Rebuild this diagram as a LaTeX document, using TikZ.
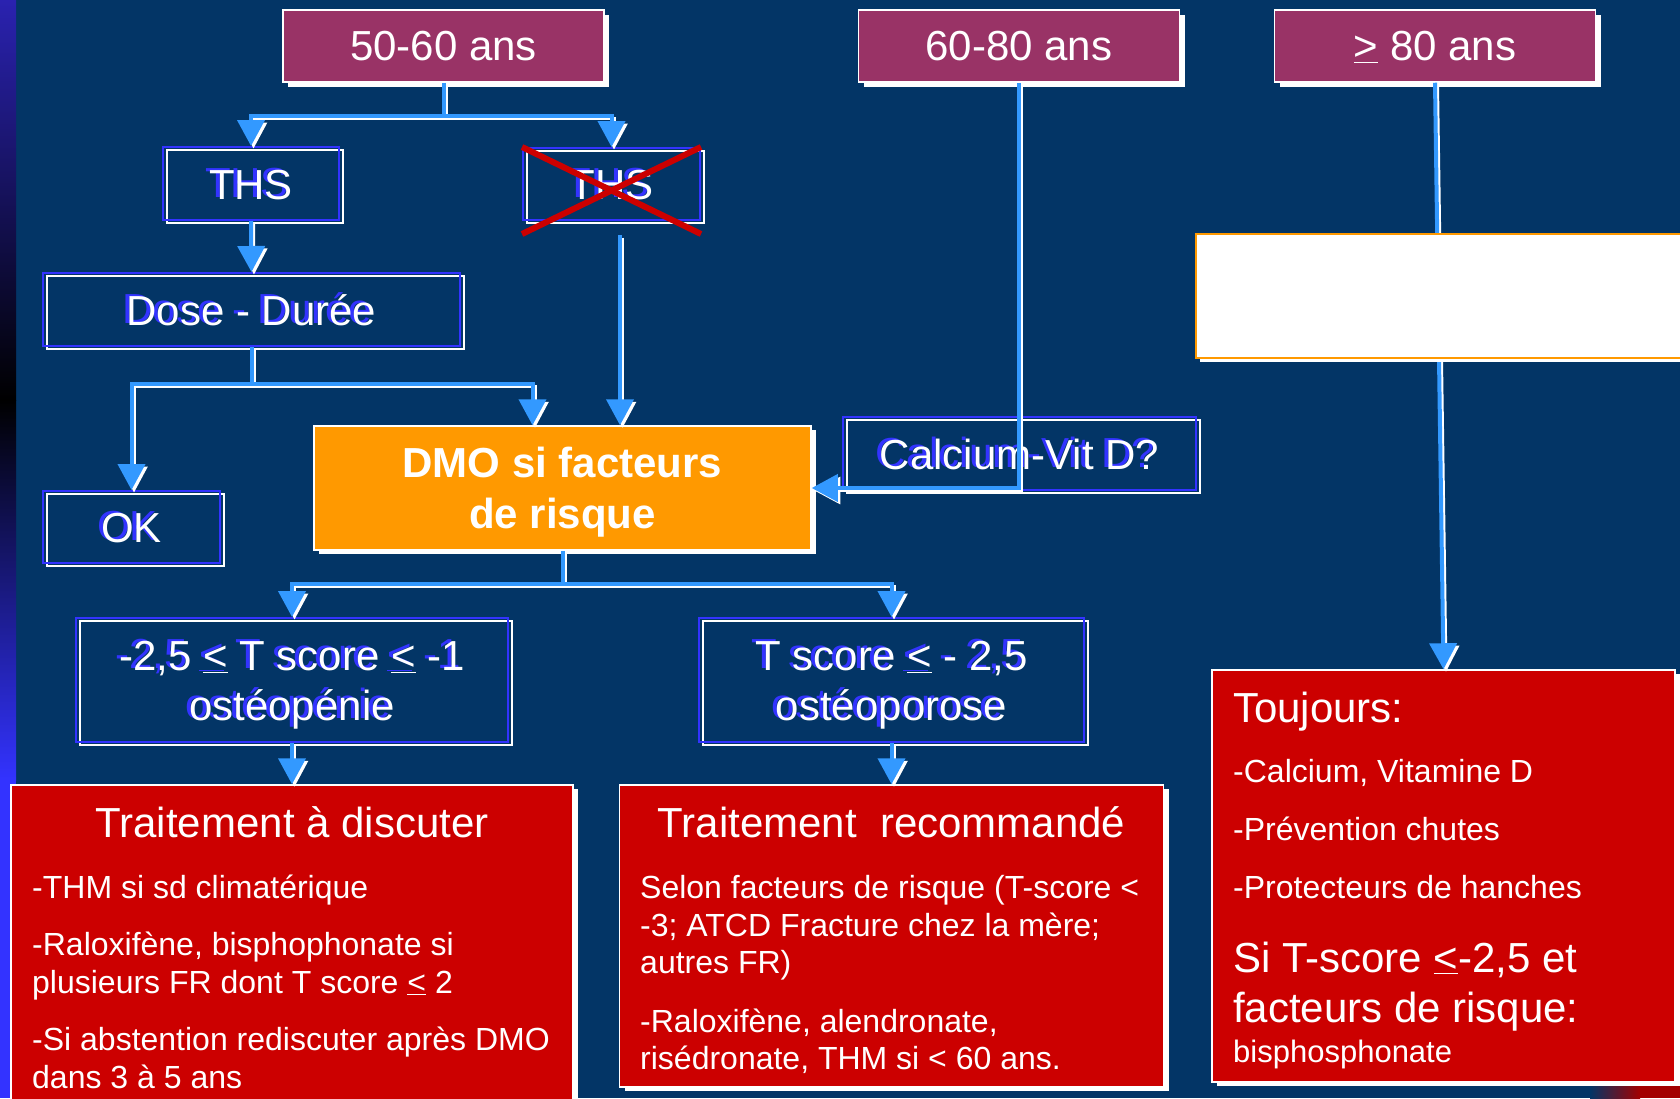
\documentclass[tikz,border=0pt]{standalone}
\usepackage{fontspec}
\setmainfont{Liberation Sans}
\usetikzlibrary{arrows.meta}

\definecolor{navy}{RGB}{3,53,102}
\definecolor{plum}{RGB}{153,51,102}
\definecolor{amber}{RGB}{255,153,0}
\definecolor{crimson}{RGB}{204,0,0}
\definecolor{sky}{RGB}{51,153,255}
\definecolor{royal}{RGB}{51,51,255}
\definecolor{bandtop}{RGB}{42,34,176}

\newcommand{\fsize}[2]{\fontsize{#1}{#2}\selectfont}
% white text over a blue copy
\newcommand{\emb}[1]{\rlap{\kern-4pt\raisebox{2pt}{\color{royal}#1}}#1}

\tikzset{
  hdr/.style={draw=white, line width=1.5, fill=plum, text=white, inner sep=0,
    minimum width=321, minimum height=72, font=\fsize{42}{50}, text depth=0pt,
    preaction={fill=white, transform canvas={shift={(5pt,-5pt)}}}},
  textbox/.style={draw=royal, line width=2, text=white, inner sep=0, align=center,
    font=\fsize{42}{50}, text depth=0pt,
    preaction={draw=white, line width=2, transform canvas={shift={(4pt,-3pt)}}}},
  dmobox/.style={draw=white, line width=1.5, fill=amber, text=white, inner sep=0,
    align=center, minimum width=497, minimum height=124, font=\bfseries\fsize{42}{51},
    text depth=0pt,
    preaction={fill=white, transform canvas={shift={(5pt,-4pt)}}}},
  redbox/.style={draw=white, line width=1.5, fill=crimson, inner sep=0,
    preaction={fill=white, transform canvas={shift={(5pt,-4pt)}}}},
  blank/.style={draw=amber, line width=2, fill=white, inner sep=0,
    preaction={fill=white, transform canvas={shift={(4pt,-4pt)}}}},
  link/.style={draw=sky, line width=4, -{Triangle[length=26pt,width=27pt]},
    preaction={draw=white, line width=3, transform canvas={shift={(2.5pt,-2.5pt)}}}},
  cross/.style={draw=crimson, line width=6},
  title/.style={text=white, anchor=base, inner sep=0, font=\fsize{42}{50}},
  body/.style={text=white, anchor=base west, inner sep=0, font=\fsize{32}{38}}
}

\begin{document}
\begin{tikzpicture}[x=1pt,y=-1pt]
  \useasboundingbox (0,0) rectangle (1680,1098);
  \clip (0,0) rectangle (1680,1098);
  \fill[navy] (0,0) rectangle (1680,1098);
  % side band
  \shade[top color=bandtop, bottom color=black] (0,0) rectangle (16,400);
  \shade[top color=black, bottom color=royal] (0,400) rectangle (16,780);
  \fill[royal] (0,780) rectangle (16,1098);
  \shade[left color=navy, right color=crimson!80!black] (1590,1086) rectangle (1640,1098);
  \fill[crimson!80!black] (1640,1086) rectangle (1680,1098);

  % ages
  \node[hdr] (age1) at (443.5,46) {50-60 ans};
  \node[hdr] (age2) at (1019,46) {60-80 ans};
  \node[hdr] (age3) at (1435,46) {\underline{>} 80 ans};

  % boxes
  \node[textbox, minimum width=176, minimum height=73] (ths) at (251,183.5) {\emb{THS}};
  \node[textbox, minimum width=177, minimum height=72] (noths) at (611.5,184) {\emb{THS}};
  \node[textbox, minimum width=417, minimum height=73] (dose) at (251.5,309.5) {\emb{Dose - Durée}};
  \node[textbox, minimum width=177, minimum height=72] (ok) at (131.5,527) {\emb{OK}};
  \node[dmobox] (dmo) at (562.5,488) {DMO si facteurs\\de risque};
  \node[textbox, minimum width=353, minimum height=73] (calc) at (1019.5,453.5) {\emb{Calcium-Vit D?}};
  \node[textbox, minimum width=432, minimum height=124] (low) at (292,680)
    {\emb{-2,5 \underline{<} T score \underline{<} -1}\\\emb{ostéopénie}};
  \node[textbox, minimum width=385, minimum height=124] (high) at (891.5,680)
    {\emb{T score \underline{<} - 2,5}\\\emb{ostéoporose}};

  \node[redbox, minimum width=562, minimum height=345] (left) at (292,957.5) {};
  \node[redbox, minimum width=544, minimum height=302] (mid) at (891.5,936) {};
  \node[redbox, minimum width=463, minimum height=412] (right) at (1443.5,876) {};

  \draw[cross] (noths.north west) -- ([yshift=-13pt]noths.south east);
  \draw[cross] ([yshift=-13pt]noths.south west) -- (noths.north east);

  % links
  \coordinate (fork1) at (443.5,116);
  \coordinate (fork2) at (251.5,384);
  \coordinate (fork3) at (562.5,584);
  \draw[link] (age1.south) -- (fork1) -| (ths.north);
  \draw[link] (fork1) -| (noths.north);
  \draw[link] (ths.south) -- (dose.north);
  \draw[link] (dose.south) -- (fork2) -| (ok.north);
  \draw[link] (fork2) -| ([xshift=-30pt]dmo.north);
  \draw[link] ([xshift=8.5pt,yshift=-14pt]noths.south) -- ([xshift=57.5pt]dmo.north);
  \draw[link] (age2.south) |- (dmo.east);
  \draw[link] (age3.south) -- (right.north);
  \draw[link] (dmo.south) -- (fork3) -| (low.north);
  \draw[link] (fork3) -| (high.north);
  \draw[link] (low.south) -- (left.north);
  \draw[link] (high.south) -- (mid.north);

  \node[blank, minimum width=500, minimum height=124] (note) at (1446,296) {};

  % texts
  \node[title] (lt) at (292,837) {Traitement à discuter};
  \node[body] (l1) at (32,898) {-THM si sd climatérique};
  \node[body] (l2) at (32,955) {-Raloxifène, bisphophonate si};
  \node[body] (l3) at (32,993) {plusieurs FR dont T score \underline{<} 2};
  \node[body] (l4) at (32,1050) {-Si abstention rediscuter après DMO};
  \node[body] (l5) at (32,1088) {dans 3 à 5 ans};

  \node[title] (mt) at (891.5,837) {Traitement~~recommandé};
  \node[body] (m1) at (640,898) {Selon facteurs de risque (T-score <};
  \node[body] (m2) at (640,936) {-3; ATCD Fracture chez la mère;};
  \node[body] (m3) at (640,973) {autres FR)};
  \node[body] (m4) at (640,1032) {-Raloxifène, alendronate,};
  \node[body] (m5) at (640,1069) {risédronate, THM si < 60 ans.};

  \node[title, anchor=base west] (rt) at (1233,722) {Toujours:};
  \node[body] (r1) at (1233,782) {-Calcium, Vitamine D};
  \node[body] (r2) at (1233,840) {-Prévention chutes};
  \node[body] (r3) at (1233,898) {-Protecteurs de hanches};
  \node[title, anchor=base west] (r4) at (1233,972) {Si T-score \underline{<}-2,5 et};
  \node[title, anchor=base west] (r5) at (1233,1022) {facteurs de risque:};
  \node[body, font=\fsize{31}{38}] (r6) at (1233,1062) {bisphosphonate};
\end{tikzpicture}
\end{document}
